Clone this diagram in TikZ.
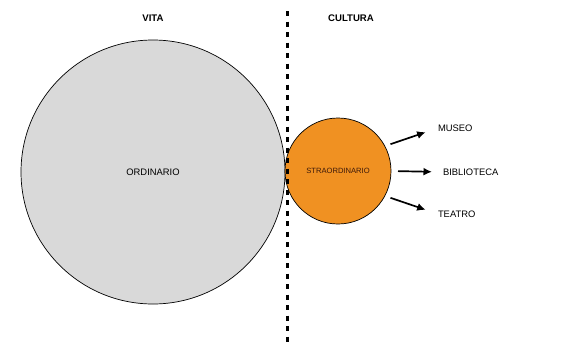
\documentclass[tikz,border=0pt]{standalone}
\usepackage{fontspec}
\setmainfont{Liberation Sans}
\usepackage{tikz}
\usetikzlibrary{positioning,calc,arrows.meta}
\definecolor{circgray}{RGB}{217,217,217}
\definecolor{circorange}{RGB}{240,145,34}

\begin{document}
\begin{tikzpicture}[x=1pt, y=-1pt,
    bigcirc/.style={draw, circle, line width=0.7pt, inner sep=0pt, outer sep=0pt, font=\fontsize{9.4}{11}\selectfont},
    head/.style={font=\fontsize{9.6}{11}\selectfont\bfseries},
    item/.style={inner sep=0pt, outer sep=0pt, font=\fontsize{9.4}{11}\selectfont},
    arr/.style={-{Latex[length=8.5pt,width=8pt]}, line width=1.7pt}
]
    \useasboundingbox (0,0) rectangle (565,346);

    % Circles
    \node [bigcirc, fill=circgray, minimum size=264pt] (ordinario) at (153,172) {ORDINARIO};
    \node [bigcirc, fill=circorange, minimum size=106pt, font=\fontsize{7.6}{9}\selectfont, text={rgb,255:red,60;green,25;blue,10}] (straord) at (338,171) {STRAORDINARIO};

    % Headings
    \node [head] (vita) at (153,18) {VITA};
    \node [head] (cultura) at (351,18) {CULTURA};

    % Divider
    \coordinate (divtop) at (287,11);
    \coordinate (divbot) at (287,346);
    \draw [line width=3pt, dash pattern=on 5pt off 5.5pt] (divtop) -- (divbot);

    % Targets
    \node [item, anchor=west] (museo) at (438,128) {MUSEO};
    \node [item, anchor=west] (biblio) at (443,172) {BIBLIOTECA};
    \node [item, anchor=west] (teatro) at (438,214) {TEATRO};

    \draw [arr, shorten <=6pt, shorten >=13pt] (straord.28) -- (museo.west);
    \draw [arr, shorten <=7pt, shorten >=11pt] (straord.east) -- (biblio.west);
    \draw [arr, shorten <=6pt, shorten >=13pt] (straord.-28) -- (teatro.west);
\end{tikzpicture}
\end{document}
